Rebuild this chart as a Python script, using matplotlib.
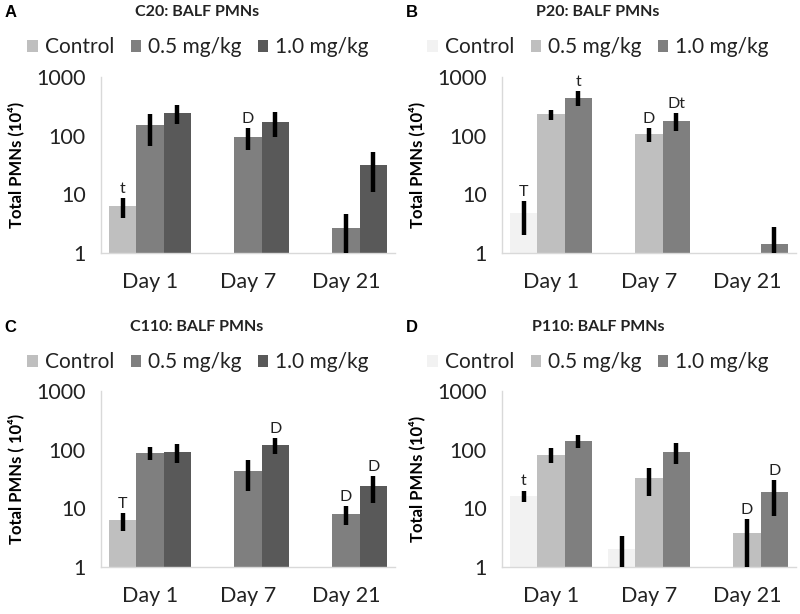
import numpy as np
import matplotlib
matplotlib.use("Agg")
import matplotlib.pyplot as plt
from matplotlib.patches import Patch

plt.rcParams['font.family'] = ['Lato', 'DejaVu Sans']

days = ["Day 1", "Day 7", "Day 21"]
groups = ["Control", "0.5 mg/kg", "1.0 mg/kg"]
nan = np.nan

# Panel A: C20
a_vals = [[6.3, nan, nan], [153, 96, 2.7], [244, 174, 32]]
a_errs = [[2.4, nan, nan], [85, 40, 2.0], [88, 80, 21]]
a_marks = [["t", "", ""], ["", "D", ""], ["", "", ""]]
# Panel B: P20
b_vals = [[4.8, nan, nan], [232, 105, nan], [445, 181, 1.44]]
b_errs = [[2.8, nan, nan], [45, 28, nan], [125, 60, 1.3]]
b_marks = [["T", "", ""], ["", "D", ""], ["t", "Dt", ""]]
# Panel C: C110
c_vals = [[6.3, nan, nan], [89, 44, 8.1], [92, 123, 23.8]]
c_errs = [[2.2, nan, nan], [23, 24, 2.8], [33, 37, 11.5]]
c_marks = [["T", "", ""], ["", "", "D"], ["", "D", "D"]]
# Panel D: P110
d_vals = [[16.5, 2.0, nan], [83, 33, 3.8], [142, 93, 18.8]]
d_errs = [[3.7, 1.4, nan], [23, 17, 2.9], [34, 36, 11.5]]
d_marks = [["t", "", ""], ["", "", "D"], ["", "", "D"]]

yticks = [1, 10, 100, 1000]
ytick_labels = ["1", "10", "100", "1000"]

dark_colors = ["#bfbfbf", "#7f7f7f", "#595959"]
light_colors = ["#f2f2f2", "#bfbfbf", "#7f7f7f"]

panels = [
    ("A", "C20: BALF PMNs", a_vals, a_errs, a_marks, dark_colors, "Total PMNs (10⁴)"),
    ("B", "P20: BALF PMNs", b_vals, b_errs, b_marks, light_colors, "Total PMNs (10⁴)"),
    ("C", "C110: BALF PMNs", c_vals, c_errs, c_marks, dark_colors, "Total PMNs ( 10⁴)"),
    ("D", "P110: BALF PMNs", d_vals, d_errs, d_marks, light_colors, "Total PMNs (10⁴)"),
]

fig = plt.figure(figsize=(8, 6.14), dpi=100)

positions = [
    (0.12625, 0.5879, 0.3675, 0.2866),
    (0.6275, 0.5879, 0.3675, 0.2866),
    (0.12625, 0.0765, 0.3675, 0.2862),
    (0.6275, 0.0765, 0.3675, 0.2862),
]
title_pos = [(0.246, 0.980), (0.7475, 0.980), (0.246, 0.4674), (0.7475, 0.4674)]
legend_pos = [(0.2475, 0.9235), (0.7475, 0.9235), (0.2475, 0.4104), (0.7475, 0.4104)]
letter_pos = [(0.006, 0.980), (0.507, 0.980), (0.006, 0.4674), (0.507, 0.4674)]

width = 0.28
x = np.arange(len(days))

for i, (letter, title, vals, errs, marks, colors, ylab) in enumerate(panels):
    ax = fig.add_axes(positions[i])
    ax.set_yscale("log")
    for g in range(3):
        v = np.array(vals[g], dtype=float)
        e = np.array(errs[g], dtype=float)
        xs = x + (g - 1) * width
        ok = ~np.isnan(v)
        ax.bar(xs[ok], v[ok], width=width, color=colors[g], edgecolor="none", zorder=2)
        ax.errorbar(xs[ok], v[ok], yerr=e[ok], fmt="none", ecolor="black",
                    elinewidth=3.2, capsize=0, zorder=3)
        for j in range(3):
            if marks[g][j]:
                ax.annotate(marks[g][j], xy=(xs[j], v[j] + e[j]), xytext=(0, 1.5),
                            textcoords="offset points", ha="center", va="bottom",
                            fontsize=11.5, color="#222222")
    ax.set_ylim(1, 1000)
    ax.set_xlim(-0.5, 2.5)
    ax.set_yticks(yticks)
    ax.set_yticklabels(ytick_labels)
    ax.minorticks_off()
    ax.set_xticks(x)
    ax.set_xticklabels(days)
    ax.tick_params(axis="both", length=0, labelsize=15.5, colors="#222222")
    ax.tick_params(axis="x", pad=14)
    ax.tick_params(axis="y", pad=11)
    for s in ["top", "right"]:
        ax.spines[s].set_visible(False)
    for s in ["left", "bottom"]:
        ax.spines[s].set_color("#d9d9d9")
        ax.spines[s].set_linewidth(1)
    ax.set_ylabel(ylab, fontsize=12, fontweight="bold")
    ax.yaxis.set_label_coords(-0.262, 0.5)

    fig.text(title_pos[i][0], title_pos[i][1], title, ha="center", va="center",
             fontsize=11.5, fontweight="bold", color="#222222")
    fig.text(letter_pos[i][0], letter_pos[i][1], letter, ha="left", va="center",
             fontsize=12, fontweight="bold", family="Liberation Sans")

    handles = [Patch(facecolor=colors[g], edgecolor="none") for g in range(3)]
    fig.legend(handles, groups, loc="center", bbox_to_anchor=legend_pos[i], ncol=3,
               frameon=False, fontsize=15, handlelength=0.5, handleheight=0.5,
               handletextpad=0.33, columnspacing=0.8, borderpad=0,
               labelcolor="#222222")

fig.savefig("out.png", dpi=100)
